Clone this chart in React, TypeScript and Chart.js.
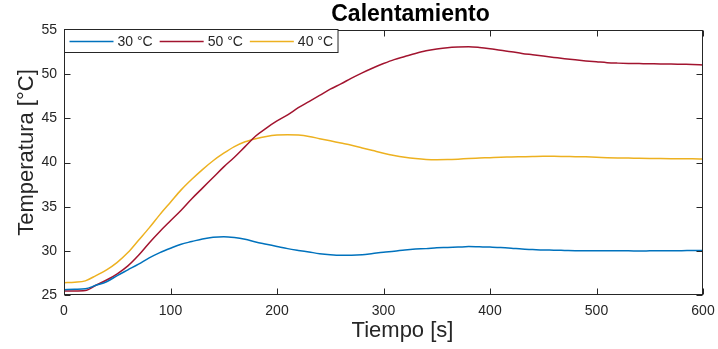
import React, { useEffect, useRef } from 'react';
import { Chart, registerables } from 'chart.js';

Chart.register(...registerables);

const chartTitle = 'Calentamiento';
const xAxisTitle = 'Tiempo [s]';
const yAxisTitle = 'Temperatura [°C]';

const seriesLabels = ['30 °C', '50 °C', '40 °C'];
const seriesColors = ['#0072BD', '#A2142F', '#EDB120'];

const xTicks = [0, 100, 200, 300, 400, 500, 600];
const yTicks = [25, 30, 35, 40, 45, 50, 55];

const timeS = [
  0, 10, 20, 30, 40, 50, 60, 70, 80, 90,
  100, 110, 120, 130, 140, 150, 160, 170, 180, 190,
  200, 210, 220, 230, 240, 250, 260, 270, 280, 290,
  300, 310, 320, 330, 340, 350, 360, 370, 380, 390,
  400, 410, 420, 430, 440, 450, 460, 470, 480, 490,
  500, 510, 520, 530, 540, 550, 560, 570, 580, 590,
  600,
];

const temp30 = [
  25.6, 25.65, 25.7, 26.1, 26.5, 27.2, 27.85, 28.5, 29.2, 29.8,
  30.3, 30.75, 31.05, 31.35, 31.55, 31.6, 31.5, 31.3, 31.0, 30.75,
  30.5, 30.25, 30.05, 29.87, 29.68, 29.56, 29.5, 29.5, 29.55, 29.7,
  29.85, 29.95, 30.1, 30.2, 30.25, 30.35, 30.38, 30.42, 30.48, 30.45,
  30.42, 30.38, 30.3, 30.2, 30.15, 30.1, 30.08, 30.05, 30.02, 30.02,
  30.0, 30.0, 30.0, 30.0, 29.98, 30.0, 30.02, 30.02, 30.02, 30.05,
  30.05,
];

const temp50 = [
  25.45, 25.45, 25.5, 26.1, 26.7, 27.4, 28.3, 29.5, 30.9, 32.2,
  33.4, 34.6, 35.9, 37.1, 38.3, 39.5, 40.6, 41.8, 43.0, 43.9,
  44.7, 45.4, 46.2, 46.9, 47.6, 48.3, 48.9, 49.55, 50.15, 50.7,
  51.2, 51.65, 52.0, 52.35, 52.65, 52.85, 53.0, 53.07, 53.1, 53.02,
  52.88, 52.7, 52.55, 52.35, 52.2, 52.05, 51.9, 51.75, 51.62, 51.5,
  51.4, 51.3, 51.25, 51.22, 51.2, 51.18, 51.15, 51.15, 51.12, 51.1,
  51.05,
];

const temp40 = [
  26.4, 26.45, 26.6, 27.2, 27.85, 28.7, 29.8, 31.2, 32.6, 34.1,
  35.5, 36.9, 38.1, 39.2, 40.2, 41.05, 41.8, 42.35, 42.7, 42.95,
  43.1, 43.15, 43.1, 42.95, 42.7, 42.45, 42.2, 41.95, 41.65, 41.35,
  41.05, 40.8, 40.6, 40.45, 40.35, 40.32, 40.33, 40.38, 40.45, 40.5,
  40.55, 40.6, 40.62, 40.65, 40.68, 40.7, 40.7, 40.68, 40.66, 40.64,
  40.6, 40.55, 40.52, 40.5, 40.47, 40.45, 40.44, 40.43, 40.42, 40.42,
  40.4,
];

const seriesValues = [temp30, temp50, temp40];

const FONT = '"Liberation Sans", Arial, Helvetica, sans-serif';
const AXIS_COLOR = '#262626';

const decorPlugin = {
  id: 'decor',
  afterDraw(chart: any) {
    const { ctx, chartArea: a, scales } = chart;
    const xs = scales.x;
    const ys = scales.y;
    ctx.save();

    // box
    ctx.strokeStyle = AXIS_COLOR;
    ctx.lineWidth = 1;
    const L = Math.round(a.left) + 0.5;
    const R = Math.round(a.right) - 0.5;
    const T = Math.round(a.top) + 0.5;
    const B = Math.round(a.bottom) - 0.5;
    ctx.strokeRect(L, T, R - L, B - T);

    // inward tick marks on all sides
    const tl = 6;
    ctx.beginPath();
    xTicks.forEach((v) => {
      const p = Math.round(xs.getPixelForValue(v)) + 0.5;
      ctx.moveTo(p, B);
      ctx.lineTo(p, B - tl);
      ctx.moveTo(p, T);
      ctx.lineTo(p, T + tl);
    });
    yTicks.forEach((v) => {
      const p = Math.round(ys.getPixelForValue(v)) + 0.5;
      ctx.moveTo(L, p);
      ctx.lineTo(L + tl, p);
      ctx.moveTo(R, p);
      ctx.lineTo(R - tl, p);
    });
    ctx.stroke();

    // legend (top-left inside)
    ctx.font = `14px ${FONT}`;
    const lineLen = 44;
    const gapLineText = 4;
    const gapItem = 7;
    const pad = 5;
    const boxTop = T - 1;
    const boxH = 23;
    let cx = L + pad;
    const midY = boxTop + boxH / 2 + 0.5;
    const items = chart.data.datasets.map((ds: any) => ({
      label: ds.label,
      color: ds.borderColor,
      w: ctx.measureText(ds.label).width,
    }));
    let totalW = pad;
    items.forEach((it: any, i: number) => {
      totalW += lineLen + gapLineText + it.w + (i < items.length - 1 ? gapItem : 0);
    });
    totalW += pad;
    ctx.fillStyle = '#ffffff';
    ctx.fillRect(L, boxTop, totalW, boxH);
    ctx.strokeStyle = AXIS_COLOR;
    ctx.lineWidth = 1;
    ctx.strokeRect(L, boxTop, totalW, boxH);
    items.forEach((it: any) => {
      ctx.strokeStyle = it.color;
      ctx.lineWidth = 1.5;
      ctx.beginPath();
      ctx.moveTo(cx, midY);
      ctx.lineTo(cx + lineLen, midY);
      ctx.stroke();
      cx += lineLen + gapLineText;
      ctx.fillStyle = AXIS_COLOR;
      ctx.textAlign = 'left';
      ctx.textBaseline = 'middle';
      ctx.fillText(it.label, cx, midY + 0.5);
      cx += it.w + gapItem;
    });

    // titles
    const midX = (a.left + a.right) / 2;
    const midYArea = (a.top + a.bottom) / 2;
    ctx.fillStyle = '#000000';
    ctx.textAlign = 'center';
    ctx.textBaseline = 'alphabetic';
    ctx.font = `bold 23px ${FONT}`;
    ctx.fillText(chartTitle, midX + 27, 21);

    ctx.fillStyle = AXIS_COLOR;
    ctx.font = `22px ${FONT}`;
    ctx.fillText(xAxisTitle, midX + 19, a.bottom + 42);

    ctx.save();
    ctx.translate(a.left - 31, midYArea - 10);
    ctx.rotate(-Math.PI / 2);
    ctx.fillText(yAxisTitle, 0, 0);
    ctx.restore();

    ctx.restore();
  },
};

export default function App() {
  const canvasRef = useRef<HTMLCanvasElement | null>(null);

  useEffect(() => {
    document.body.style.margin = '0';
    const canvas = canvasRef.current;
    if (!canvas) return;
    Chart.defaults.font.family = FONT;

    const datasets = seriesValues.map((vals, i) => ({
      label: seriesLabels[i],
      data: timeS.map((t, j) => ({ x: t, y: vals[j] })),
      borderColor: seriesColors[i],
      backgroundColor: seriesColors[i],
      borderWidth: 1.5,
      pointRadius: 0,
      cubicInterpolationMode: 'monotone' as const,
      fill: false,
    }));

    const chart = new Chart(canvas, {
      type: 'line',
      data: { datasets },
      options: {
        animation: false,
        responsive: false,
        devicePixelRatio: 1,
        layout: { padding: { left: 0, right: 15, top: 30, bottom: 0 } },
        plugins: {
          legend: { display: false },
          title: { display: false },
          tooltip: { enabled: false },
        },
        scales: {
          x: {
            type: 'linear',
            min: 0,
            max: 600,
            grid: { display: false, drawTicks: false },
            border: { display: false },
            ticks: {
              stepSize: 100,
              autoSkip: false,
              maxRotation: 0,
              padding: 8,
              color: AXIS_COLOR,
              font: { size: 14, family: FONT },
            },
            afterFit: (scale: any) => {
              scale.height = 54;
              scale.paddingLeft = 0;
              scale.paddingRight = 0;
            },
          },
          y: {
            type: 'linear',
            min: 25,
            max: 55,
            grid: { display: false, drawTicks: false },
            border: { display: false },
            ticks: {
              stepSize: 5,
              autoSkip: false,
              padding: 7,
              color: AXIS_COLOR,
              font: { size: 14, family: FONT },
            },
            afterFit: (scale: any) => {
              scale.width = 64;
              scale.paddingTop = 0;
              scale.paddingBottom = 0;
            },
          },
        },
      },
      plugins: [decorPlugin],
    });

    return () => {
      chart.destroy();
    };
  }, []);

  return (
    <div style={{ width: 718, height: 349, background: '#ffffff' }}>
      <canvas ref={canvasRef} width={718} height={349} />
    </div>
  );
}
